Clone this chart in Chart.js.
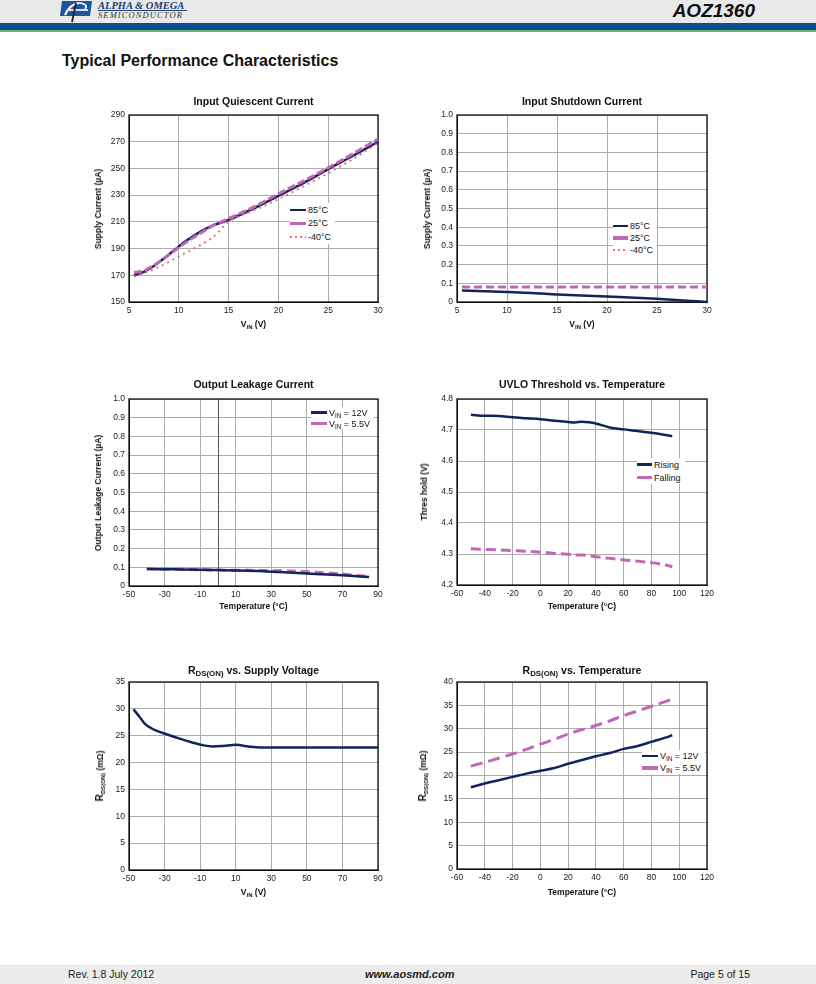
<!DOCTYPE html>
<html>
<head>
<meta charset="utf-8">
<script src="https://cdn.jsdelivr.net/npm/chart.js@4"></script>
<style>
body{margin:0;width:816px;height:984px;position:relative;background:#fff;font-family:"Liberation Sans",Arial,sans-serif;color:#111;overflow:hidden}
.abs{position:absolute}
canvas{position:absolute}
.ttl{position:absolute;font-weight:bold;font-size:10.5px;line-height:12px;text-align:center;white-space:nowrap}
.xt{position:absolute;font-weight:bold;font-size:8.5px;line-height:10px;text-align:center;white-space:nowrap}
.yt{position:absolute;font-weight:bold;font-size:8.5px;line-height:10px;white-space:nowrap;transform:translate(-50%,-50%) rotate(-90deg)}
.lg{position:absolute;background:#fff;font-size:9px;padding-right:4px}
.lg .row{display:flex;align-items:center;white-space:nowrap}
.lg .sw{margin-right:2px}
sub{font-size:70%;vertical-align:-1.5px;line-height:0}
.ttl sub{font-size:75%}
.yt .r{font-size:10px}
</style>
</head>
<body>
<div class="abs" style="left:0;top:0;width:816px;height:23px;background:#e9e9e9"></div>
<div class="abs" style="left:0;top:23px;width:816px;height:7px;background:#0c4c8e"></div>
<div class="abs" style="left:0;top:30px;width:816px;height:2px;background:#5fb46e"></div>
<svg class="abs" style="left:58px;top:0" width="36" height="23">
  <polygon points="4,1 34,1 32,16 2,16" fill="#1d55a0"/>
  <path d="M7,15 Q12,4 21,3" stroke="#fff" stroke-width="2.2" fill="none"/>
  <path d="M10,10 L30,10" stroke="#fff" stroke-width="1.6"/>
  <path d="M21,3 Q31,4 27,9" stroke="#fff" stroke-width="1.6" fill="none"/>
  <path d="M18,3 L14,22" stroke="#222" stroke-width="1.8"/>
</svg>
<div class="abs" style="left:98px;top:1px;font-family:'Liberation Serif',serif;font-style:italic;font-weight:bold;font-size:10.5px;color:#1b3d78;border-bottom:1px solid #1b3d78;line-height:9px;width:89px;white-space:nowrap">ALPHA &amp; OMEGA</div>
<div class="abs" style="left:98px;top:11px;font-family:'Liberation Serif',serif;font-style:italic;font-size:8.5px;color:#333;letter-spacing:1.1px;line-height:8px;white-space:nowrap">SEMICONDUCTOR</div>
<div class="abs" style="right:61px;top:0px;font-weight:bold;font-style:italic;font-size:19px;line-height:22px">AOZ1360</div>

<div class="abs" style="left:62px;top:51px;font-weight:bold;font-size:16px;line-height:20px;white-space:nowrap">Typical Performance Characteristics</div>

<div class="abs" style="left:0;top:965px;width:816px;height:19px;background:#ececec"></div>
<div class="abs" style="left:68px;top:968px;font-size:10.5px;line-height:13px;font-family:'Liberation Sans Narrow','Arial Narrow',sans-serif;color:#222">Rev. 1.8 July 2012</div>
<div class="abs" style="left:365px;top:968px;font-size:11px;line-height:13px;font-weight:bold;font-style:italic;color:#222">www.aosmd.com</div>
<div class="abs" style="right:66px;top:968px;font-size:10.5px;line-height:13px;font-family:'Liberation Sans Narrow','Arial Narrow',sans-serif;color:#222">Page 5 of 15</div>

<script>
// ---- Input Quiescent Current ----
const qcVin = [5.5, 6.5, 7.5, 8.5, 9.5, 10.5, 11.5, 12.5, 13.5, 15, 17.5, 20, 22.5, 25, 27.5, 30];
const qc85 = [170.2, 172.5, 177, 182.5, 188.5, 194.5, 199.5, 204, 207.5, 211.5, 220, 229.5, 239, 249.5, 259.5, 270];
const qc25 = [172, 173.5, 177.5, 182.5, 188, 193.5, 198.5, 203, 207.5, 212.5, 221, 231, 240.5, 250.5, 261, 272];
const qcM40 = [169, 171.5, 174.5, 178, 182, 186, 190, 194, 199, 210, 218.5, 227, 236.5, 246.5, 257, 269];
const qcXTicks = ['5', '10', '15', '20', '25', '30'];
const qcYTicks = ['150', '170', '190', '210', '230', '250', '270', '290'];

// ---- Input Shutdown Current ----
const sdVin = [5.5, 10, 12.5, 15, 20, 25, 28, 30];
const sd85 = [0.061, 0.053, 0.048, 0.040, 0.029, 0.017, 0.007, 0.0];
const sd25 = [0.08, 0.08, 0.08, 0.08, 0.08, 0.08, 0.08, 0.08];
const sdM40 = [0.08, 0.08, 0.08, 0.08, 0.08, 0.08, 0.08, 0.08];
const sdXTicks = ['5', '10', '15', '20', '25', '30'];
const sdYTicks = ['0', '0.1', '0.2', '0.3', '0.4', '0.5', '0.6', '0.7', '0.8', '0.9', '1.0'];

// ---- Output Leakage Current ----
const lkTemp = [-40, -25, -10, 0, 10, 25, 40, 55, 70, 85];
const lk12 = [0.091, 0.089, 0.087, 0.085, 0.083, 0.079, 0.072, 0.064, 0.057, 0.048];
const lk55 = [0.092, 0.090, 0.087, 0.085, 0.084, 0.083, 0.080, 0.074, 0.064, 0.050];
const lkXTicks = ['-50', '-30', '-10', '10', '30', '50', '70', '90'];
const lkYTicks = ['0', '0.1', '0.2', '0.3', '0.4', '0.5', '0.6', '0.7', '0.8', '0.9', '1.0'];

// ---- UVLO Threshold vs. Temperature ----
const uvTemp = [-50, -40, -30, -20, -10, 0, 10, 20, 25, 30, 35, 40, 50, 60, 70, 80, 90, 95];
const uvRising = [4.749, 4.746, 4.745, 4.741, 4.738, 4.735, 4.730, 4.726, 4.724, 4.727, 4.725, 4.721, 4.708, 4.702, 4.697, 4.691, 4.684, 4.680];
const uvFalling = [4.317, 4.315, 4.313, 4.311, 4.309, 4.306, 4.302, 4.299, 4.297, 4.297, 4.295, 4.291, 4.286, 4.281, 4.277, 4.272, 4.265, 4.259];
const uvXTicks = ['-60', '-40', '-20', '0', '20', '40', '60', '80', '100', '120'];
const uvYTicks = ['4.2', '4.3', '4.4', '4.5', '4.6', '4.7', '4.8'];

// ---- RDS(ON) vs. Supply Voltage ----
const rvVin = [-47.5, -44, -41, -37, -31, -22, -14, -8, -3, 3, 10, 17, 24, 35, 50, 70, 90];
const rvRds = [29.9, 28.5, 27.2, 26.3, 25.5, 24.5, 23.7, 23.2, 23.0, 23.1, 23.3, 23.0, 22.8, 22.8, 22.8, 22.8, 22.8];
const rvXTicks = ['-50', '-30', '-10', '10', '30', '50', '70', '90'];
const rvYTicks = ['0', '5', '10', '15', '20', '25', '30', '35'];

// ---- RDS(ON) vs. Temperature ----
const rtTemp = [-50, -40, -30, -20, -10, 0, 10, 20, 30, 40, 50, 60, 70, 80, 90, 95];
const rt12 = [17.5, 18.3, 19.0, 19.7, 20.4, 21.0, 21.6, 22.5, 23.3, 24.1, 24.8, 25.7, 26.3, 27.2, 28.1, 28.6];
const rt55 = [22.0, 22.8, 23.7, 24.6, 25.6, 26.7, 27.7, 28.9, 29.8, 30.7, 31.7, 32.8, 33.8, 34.8, 35.8, 36.4];
const rtXTicks = ['-60', '-40', '-20', '0', '20', '40', '60', '80', '100', '120'];
const rtYTicks = ['0', '5', '10', '15', '20', '25', '30', '35', '40'];

const NAVY = '#12245a', PINK = '#c266b8', RED = '#ee7070';
Chart.defaults.font.family = '"Liberation Sans", Arial, sans-serif';

const solid = (x, y) => ({x, y, color: NAVY, width: 2.5, dash: []});
const dashed = (x, y, d) => ({x, y, color: PINK, width: 3, dash: d || [8, 4]});
const dotted = (x, y) => ({x, y, color: RED, width: 2, dash: [2, 4]});

const VIN = 'V<sub>IN</sub> (V)';
const RDS = 'R<sub>DS(ON)</sub>';
const panels = [
  {box: [129, 115, 378, 302], title: 'Input Quiescent Current', titleY: 101, xTitle: VIN, xTitleY: 324,
   yTitle: 'Supply Current (µA)', yTitleX: 98, xTicks: qcXTicks, yTicks: qcYTicks,
   series: [dotted(qcVin, qcM40), dashed(qcVin, qc25, [8, 3]), solid(qcVin, qc85)],
   legend: {x: 290, y: 203, rowH: 13.5, swW: 16, rows: [['s', '85°C'], ['d', '25°C'], ['o', '-40°C']]}},
  {box: [457, 115, 707, 302], title: 'Input Shutdown Current', titleY: 101, xTitle: VIN, xTitleY: 324,
   yTitle: 'Supply Current (µA)', yTitleX: 427, xTicks: sdXTicks, yTicks: sdYTicks,
   series: [dashed(sdVin, sd25, [8, 4]), dotted(sdVin, sdM40), solid(sdVin, sd85)],
   legend: {x: 613, y: 220, rowH: 12, swW: 15, rows: [['s', '85°C'], ['d', '25°C'], ['o', '-40°C']]}},
  {box: [129, 399, 378, 586], title: 'Output Leakage Current', titleY: 384, xTitle: 'Temperature (°C)', xTitleY: 606,
   yTitle: 'Output Leakage Current (µA)', yTitleX: 98, xTicks: lkXTicks, yTicks: lkYTicks, zeroLine: true,
   series: [solid(lkTemp, lk12), dashed(lkTemp, lk55, [9, 5])],
   legend: {x: 311, y: 407, rowH: 11, swW: 16, rows: [['s', 'V<sub>IN</sub> = 12V'], ['d', 'V<sub>IN</sub> = 5.5V']]}},
  {box: [457, 399, 707, 585], title: 'UVLO Threshold vs. Temperature', titleY: 384, xTitle: 'Temperature (°C)', xTitleY: 606,
   yTitle: 'Thres hold (V)', yTitleX: 424, xTicks: uvXTicks, yTicks: uvYTicks,
   series: [solid(uvTemp, uvRising), dashed(uvTemp, uvFalling, [10, 5])],
   legend: {x: 637, y: 458, rowH: 13, swW: 15, rows: [['s', 'Rising'], ['d', 'Falling']]}},
  {box: [129, 682, 378, 870], title: RDS + ' vs. Supply Voltage', titleY: 670, xTitle: VIN, xTitleY: 892,
   yTitle: '<span class="r">R</span><sub>DS(ON)</sub> (mΩ)', yTitleX: 100, xTicks: rvXTicks, yTicks: rvYTicks,
   series: [solid(rvVin, rvRds)], legend: null},
  {box: [457, 682, 707, 869], title: RDS + ' vs. Temperature', titleY: 670, xTitle: 'Temperature (°C)', xTitleY: 892,
   yTitle: '<span class="r">R</span><sub>DS(ON)</sub> (mΩ)', yTitleX: 423, xTicks: rtXTicks, yTicks: rtYTicks,
   series: [dashed(rtTemp, rt55, [12, 6]), solid(rtTemp, rt12)],
   legend: {x: 642, y: 750, rowH: 12, swW: 16, rows: [['s', 'V<sub>IN</sub> = 12V'], ['d', 'V<sub>IN</sub> = 5.5V']]}}
];

// black frame round the plot, plus the 0 line on the leakage chart
const framePlugin = {
  id: 'frame',
  beforeDatasetsDraw(chart, args, opts) {
    const a = chart.chartArea, ctx = chart.ctx;
    ctx.save();
    if (opts.zeroLine) {
      const x = chart.scales.x.getPixelForValue(0);
      ctx.strokeStyle = '#555';
      ctx.lineWidth = 1;
      ctx.beginPath();
      ctx.moveTo(Math.round(x) + 0.5, a.top);
      ctx.lineTo(Math.round(x) + 0.5, a.bottom);
      ctx.stroke();
    }
    ctx.strokeStyle = '#111';
    ctx.lineWidth = 1.3;
    ctx.strokeRect(a.left, a.top, a.right - a.left, a.bottom - a.top);
    ctx.restore();
  }
};

function addDiv(cls, html, style) {
  const d = document.createElement('div');
  d.className = cls;
  d.innerHTML = html;
  Object.assign(d.style, style);
  document.body.appendChild(d);
  return d;
}

function axis(labels, fit) {
  const vals = labels.map(Number);
  return {
    type: 'linear', min: vals[0], max: vals[vals.length - 1],
    afterBuildTicks: s => { s.ticks = vals.map(v => ({value: v})); },
    afterFit: fit,
    grid: {color: '#ababab', lineWidth: 1, drawTicks: false},
    border: {color: '#111'},
    ticks: {padding: 4, color: '#1a1a1a', font: {size: 8.5}, autoSkip: false, maxRotation: 0,
            callback: (v, i) => labels[i]}
  };
}

panels.forEach(p => {
  const [L, T, R, B] = p.box;
  const w = R - L + 60, h = B - T + 32;
  const cv = document.createElement('canvas');
  cv.width = w; cv.height = h;
  cv.style.left = (L - 45) + 'px';
  cv.style.top = (T - 10) + 'px';
  cv.style.width = w + 'px';
  cv.style.height = h + 'px';
  document.body.appendChild(cv);

  new Chart(cv, {
    type: 'line',
    data: {
      datasets: p.series.map(s => ({
        data: s.x.map((x, i) => ({x, y: s.y[i]})),
        borderColor: s.color, borderWidth: s.width, borderDash: s.dash,
        pointRadius: 0, fill: false, tension: 0.4, cubicInterpolationMode: 'monotone', clip: 3
      }))
    },
    options: {
      responsive: false, animation: false,
      layout: {padding: {top: 10, right: 15, left: 0, bottom: 0}},
      plugins: {legend: {display: false}, tooltip: {enabled: false}, frame: {zeroLine: !!p.zeroLine}},
      scales: {
        x: axis(p.xTicks, s => { s.height = 22; }),
        y: axis(p.yTicks, s => { s.width = 45; })
      }
    },
    plugins: [framePlugin]
  });

  addDiv('ttl', p.title, {left: L + 'px', width: (R - L) + 'px', top: (p.titleY - 6) + 'px'});
  addDiv('xt', p.xTitle, {left: L + 'px', width: (R - L) + 'px', top: (p.xTitleY - 5) + 'px'});
  addDiv('yt', p.yTitle, {left: p.yTitleX + 'px', top: ((T + B) / 2) + 'px'});

  if (p.legend) {
    const lg = p.legend;
    let html = '';
    lg.rows.forEach(r => {
      let sw;
      if (r[0] === 's') sw = `background:${NAVY};height:2.5px`;
      else if (r[0] === 'd') sw = `background:${PINK};height:3.5px`;
      else sw = `background:repeating-linear-gradient(90deg,${RED} 0 2px,transparent 2px 5px);height:2px`;
      html += `<div class="row" style="height:${lg.rowH}px"><span class="sw" style="display:inline-block;width:${lg.swW}px;${sw}"></span><span>${r[1]}</span></div>`;
    });
    addDiv('lg', html, {left: lg.x + 'px', top: lg.y + 'px'});
  }
});
</script>
</body>
</html>
